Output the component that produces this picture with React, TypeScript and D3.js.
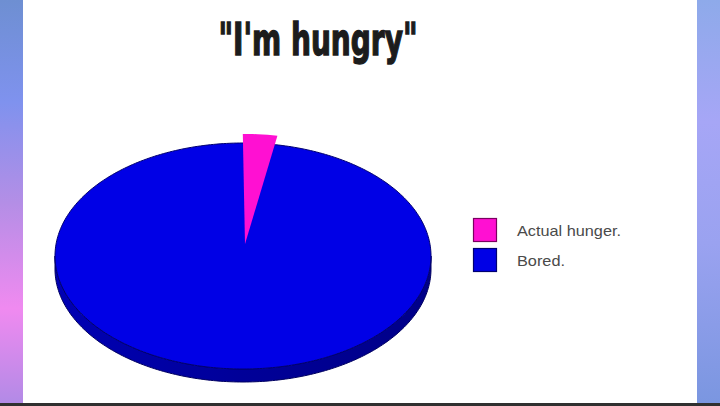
import React from "react";
import * as d3 from "d3";

const title = "\"I'm hungry\"";
const categories = ["Actual hunger.", "Bored."];
const values = [2.7, 97.3];
const colors = ["#ff10d2", "#0000e6"];
const borderColors = ["#7a0060", "#000070"];

const W = 720;
const H = 406;

export default function App() {
  const cx = 243, cy = 256, rx = 188, ry = 113, depth = 13;
  const apex = { x: 245, y: 244 };

  const pie = d3.pie<number>().sort(null).value((d) => d);
  const arcs = pie(values);

  const pt = (a: number) => ({ x: cx + rx * Math.sin(a), y: cy - ry * Math.cos(a) });
  const line = d3.line<{ x: number; y: number }>().x((d) => d.x).y((d) => d.y);

  const slicePath = (a0: number, a1: number, scale: number) => {
    const n = Math.max(4, Math.ceil(((a1 - a0) / (2 * Math.PI)) * 240));
    const pts = [apex];
    for (let i = 0; i <= n; i++) {
      const p = pt(a0 + ((a1 - a0) * i) / n);
      pts.push({ x: apex.x + (p.x - apex.x) * scale, y: apex.y + (p.y - apex.y) * scale });
    }
    return line(pts) + "Z";
  };

  const sidePts: { x: number; y: number }[] = [];
  const steps = 180;
  for (let i = 0; i <= steps; i++) {
    const a = Math.PI / 2 + (Math.PI * i) / steps;
    sidePts.push(pt(a));
  }
  for (let i = steps; i >= 0; i--) {
    const a = Math.PI / 2 + (Math.PI * i) / steps;
    const p = pt(a);
    sidePts.push({ x: p.x, y: p.y + depth });
  }
  const sidePath = line(sidePts) + "Z";

  const ellPts: { x: number; y: number }[] = [];
  for (let i = 0; i <= 360; i++) ellPts.push(pt((2 * Math.PI * i) / 360));
  const topPath = line(ellPts) + "Z";

  return (
    <svg width={W} height={H} style={{ position: "absolute", left: 0, top: 0 }}>
      <defs>
        <linearGradient id="lb" x1="0" y1="0" x2="0" y2="1">
          <stop offset="0" stopColor="#6e8fd2" />
          <stop offset="0.25" stopColor="#7f92ee" />
          <stop offset="0.5" stopColor="#b48ee6" />
          <stop offset="0.76" stopColor="#f08af0" />
          <stop offset="1" stopColor="#b08ae6" />
        </linearGradient>
        <linearGradient id="rb" x1="0" y1="0" x2="0" y2="1">
          <stop offset="0" stopColor="#8eaaea" />
          <stop offset="0.3" stopColor="#a6a6f6" />
          <stop offset="0.6" stopColor="#9aa2f0" />
          <stop offset="1" stopColor="#7a96e0" />
        </linearGradient>
        <linearGradient id="side" x1="0" y1="0" x2="1" y2="0">
          <stop offset="0" stopColor="#0000b4" />
          <stop offset="0.5" stopColor="#000098" />
          <stop offset="1" stopColor="#000088" />
        </linearGradient>
      </defs>
      <rect x={0} y={0} width={W} height={H} fill="#ffffff" />
      <rect x={0} y={0} width={23} height={H} fill="url(#lb)" />
      <rect x={697} y={0} width={23} height={H} fill="url(#rb)" />
      <rect x={0} y={403} width={W} height={3} fill="#303030" />

      <text
        x={318}
        y={55}
        textAnchor="middle"
        fontFamily="'DejaVu Sans Condensed', 'DejaVu Sans', sans-serif"
        fontWeight="bold"
        fontSize={45}
        fill="#1c1c1c"
        stroke="#1c1c1c"
        strokeWidth={1.4}
        textLength={199}
        lengthAdjust="spacingAndGlyphs"
      >
        {title}
      </text>

      <path d={sidePath} fill="url(#side)" stroke="#000060" strokeWidth={1} />
      <path d={topPath} fill={colors[1]} stroke="#000070" strokeWidth={1} />
      {arcs.map((a, i) =>
        i === 0 ? (
          <path key={i} d={slicePath(a.startAngle, a.endAngle, 1.09)} fill={colors[i]} stroke="none" />
        ) : null
      )}

      {categories.map((c, i) => (
        <g key={c} transform={`translate(473, ${218 + i * 30})`}>
          <rect x={0.5} y={0.5} width={23} height={23} fill={colors[i]} stroke={borderColors[i]} strokeWidth={1.2} />
          <text
            x={44}
            y={18}
            fontFamily="'Liberation Sans', Arial, sans-serif"
            fontSize={15}
            fill="#4a4a4a"
            textLength={i === 0 ? 104 : 48}
            lengthAdjust="spacingAndGlyphs"
          >
            {c}
          </text>
        </g>
      ))}
    </svg>
  );
}
